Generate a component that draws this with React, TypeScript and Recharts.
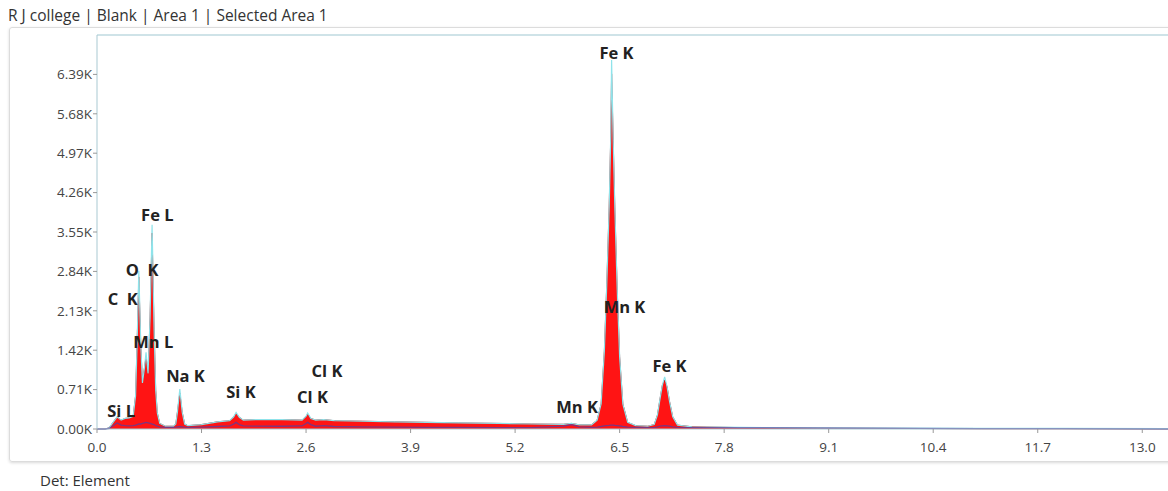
import { ComposedChart, Area, Line, XAxis, YAxis, ReferenceDot, ReferenceLine } from 'recharts';

// EDS spectrum, energy in keV, counts per channel
const energy = [
  0.0, 0.1, 0.15, 0.2, 0.25, 0.3, 0.35, 0.4, 0.45, 0.48, 0.5, 0.52, 0.545, 0.565, 0.59, 0.61, 0.635, 0.66, 0.685,
  0.71, 0.73, 0.75, 0.78, 0.85, 0.95, 0.98, 1.0, 1.03, 1.06, 1.09, 1.13, 1.3, 1.5, 1.65, 1.7, 1.73, 1.77, 1.82,
  2.0, 2.3, 2.55, 2.6, 2.62, 2.66, 2.72, 2.82, 2.95, 3.3, 3.7, 4.1, 4.5, 5.0, 5.4, 5.8, 5.9, 6.0, 6.15, 6.22,
  6.27, 6.31, 6.34, 6.37, 6.39, 6.4, 6.42, 6.44, 6.47, 6.5, 6.54, 6.6, 6.7, 6.85, 6.93, 6.97, 7.0, 7.03, 7.06,
  7.09, 7.12, 7.16, 7.22, 7.4, 8.0, 9.0, 10.0, 11.0, 12.0, 13.32,
];
const counts = [
  0, 0, 20, 120, 220, 160, 190, 200, 230, 600, 1600, 2740, 1500, 830, 1100, 1300, 1000, 2000, 3530,
  1800, 700, 290, 100, 50, 50, 90, 300, 650, 300, 90, 60, 80, 130, 150, 220, 280, 210, 160,
  170, 170, 160, 230, 270, 190, 160, 170, 150, 140, 130, 120, 110, 100, 90, 85, 100, 75, 75, 160,
  450, 1400, 2600, 4000, 5300, 6400, 5200, 4000, 2500, 1300, 450, 120, 60, 50, 80, 250, 520, 780, 880,
  760, 500, 220, 70, 40, 25, 15, 10, 5, 5, 0,
];
const upper = [
  0, 0, 20, 120, 220, 160, 190, 200, 230, 600, 1600, 2850, 1500, 830, 1100, 1380, 1000, 2000, 3680,
  1800, 700, 290, 100, 50, 50, 90, 300, 720, 300, 90, 60, 80, 130, 150, 220, 300, 210, 160,
  170, 170, 160, 230, 290, 190, 160, 170, 150, 140, 130, 120, 110, 100, 90, 85, 100, 75, 75, 160,
  450, 1400, 2600, 4000, 5300, 6650, 5200, 4000, 2500, 1300, 450, 120, 60, 50, 80, 250, 520, 780, 940,
  760, 500, 220, 70, 40, 30, 20, 15, 10, 10, 8,
];
const blank = [
  0, 0, 10, 60, 110, 70, 60, 55, 60, 70, 80, 90, 90, 100, 110, 120, 110, 100, 90,
  80, 60, 50, 40, 30, 30, 35, 40, 45, 40, 35, 30, 35, 45, 55, 90, 120, 80, 55,
  50, 50, 55, 100, 120, 80, 50, 60, 45, 40, 35, 30, 30, 25, 25, 50, 80, 40, 30, 35,
  45, 55, 60, 65, 70, 70, 70, 65, 60, 55, 45, 35, 30, 25, 30, 40, 50, 55, 60,
  55, 50, 40, 30, 25, 20, 15, 10, 8, 5, 0,
];

const xTicks = [0, 1.3, 2.6, 3.9, 5.2, 6.5, 7.8, 9.1, 10.4, 11.7, 13.0];
const yTicks = [0, 710, 1420, 2130, 2840, 3550, 4260, 4970, 5680, 6390];

// peak labels: text, energy (keV), counts where label sits
const peakNames = ['Fe K', 'Fe L', 'O  K', 'C  K', 'Mn L', 'Na K', 'Si K', 'Si L', 'Cl K', 'Cl K', 'Mn K', 'Mn K', 'Fe K'];
const peakEnergy = [6.46, 0.75, 0.56, 0.32, 0.7, 1.1, 1.79, 0.3, 2.86, 2.68, 5.97, 6.56, 7.12];
const peakLevel = [6790, 3860, 2880, 2360, 1570, 970, 670, 340, 1060, 580, 410, 2200, 1140];

const rows = energy.map((e, i) => ({ e, counts: counts[i], upper: upper[i], blank: blank[i] }));

const tickStyle = { fontSize: 13.5, fill: '#444', fontFamily: '"Open Sans", sans-serif' };

export default function App() {
  return (
    <div
      style={{
        position: 'absolute',
        left: 0,
        top: 0,
        width: 1168,
        height: 491,
        overflow: 'hidden',
        background: '#fff',
        fontFamily: '"Open Sans", sans-serif',
      }}
    >
      <div style={{ position: 'absolute', left: 8, top: 4, fontSize: 15.5, color: '#333' }}>
        R J college | Blank | Area 1 | Selected Area 1
      </div>
      <div
        style={{
          position: 'absolute',
          left: 9,
          top: 27,
          width: 1170,
          height: 433,
          border: '1px solid #dcdcdc',
          borderRadius: 3,
          boxShadow: '0 1px 3px rgba(0,0,0,0.15)',
        }}
      />
      <div style={{ position: 'absolute', left: 40, top: 470, fontSize: 15, color: '#333' }}>Det: Element</div>
      <div style={{ position: 'absolute', left: 0, top: 0 }}>
        <ComposedChart width={1168} height={462} data={rows} margin={{ top: 35, right: 0, bottom: 0, left: 0 }}>
          <XAxis
            dataKey="e"
            type="number"
            domain={[0, 13.32]}
            ticks={xTicks}
            allowDataOverflow
            tickFormatter={(v: number) => v.toFixed(1)}
            height={33}
            tick={tickStyle}
            tickSize={4}
            tickMargin={9}
            stroke="#a9c9d2"
            tickLine={{ stroke: '#999' }}
          />
          <YAxis
            type="number"
            domain={[0, 7100]}
            ticks={yTicks}
            width={97}
            tickFormatter={(v: number) => (v / 1000).toFixed(2) + 'K'}
            tick={tickStyle}
            tickSize={4}
            tickMargin={1}
            stroke="#a9c9d2"
            tickLine={{ stroke: '#999' }}
          />
          <ReferenceLine y={7100} stroke="#cfe3e8" strokeWidth={2} />
          <Line dataKey="upper" type="linear" stroke="#8fe3ea" strokeWidth={1.2} dot={false} isAnimationActive={false} />
          <Area
            dataKey="counts"
            type="linear"
            stroke="#d40000"
            strokeWidth={1}
            fill="#ff1414"
            fillOpacity={1}
            isAnimationActive={false}
          />
          <Line dataKey="blank" type="linear" stroke="#5a3d9c" strokeWidth={1.3} strokeOpacity={0.8} dot={false} isAnimationActive={false} />
          {peakNames.map((name, i) => (
            <ReferenceDot
              key={i}
              x={peakEnergy[i]}
              y={peakLevel[i]}
              r={1}
              shape={(p: any) => (
                <text
                  x={p.cx}
                  y={p.cy}
                  textAnchor="middle"
                  dominantBaseline="central"
                  fontSize={16.5}
                  fontWeight="bold"
                  fill="#222"
                  style={{ whiteSpace: 'pre', fontFamily: '"Open Sans", sans-serif' }}
                >
                  {name}
                </text>
              )}
            />
          ))}
        </ComposedChart>
      </div>
    </div>
  );
}
